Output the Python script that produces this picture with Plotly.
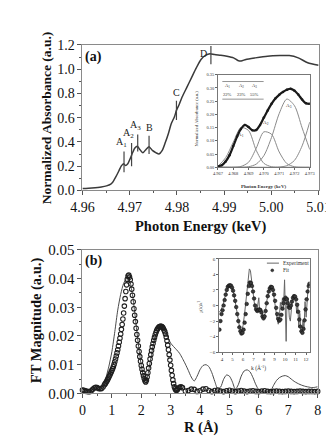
import plotly.graph_objects as go

# ---------------- Panel (a): XANES spectrum ----------------
xanes_energy = [4.9600, 4.9620, 4.9640, 4.9651, 4.9660, 4.9664, 4.9670, 4.9677, 4.9682, 4.9687,
                4.9691, 4.9696, 4.9702, 4.9706, 4.9711, 4.9716, 4.9721, 4.9728, 4.9735, 4.9741,
                4.9748, 4.9756, 4.9762, 4.9769, 4.9775, 4.9782, 4.9788, 4.9795, 4.9799, 4.9805,
                4.9811, 4.9821, 4.9831, 4.9841, 4.9851, 4.9861, 4.9870, 4.9880, 4.9893, 4.9906,
                4.9920, 4.9929, 4.9936, 4.9946, 4.9966, 4.9992, 5.0018, 5.0038, 5.0057, 5.0077,
                5.0100]
xanes_absorbance = [0.015, 0.020, 0.028, 0.037, 0.052, 0.067, 0.107, 0.160, 0.200, 0.220,
                    0.205, 0.220, 0.270, 0.310, 0.350, 0.365, 0.340, 0.310, 0.340, 0.360,
                    0.330, 0.310, 0.300, 0.330, 0.390, 0.470, 0.550, 0.610, 0.660, 0.710,
                    0.770, 0.850, 0.930, 1.010, 1.080, 1.115, 1.128, 1.120, 1.115, 1.107,
                    1.093, 1.072, 1.067, 1.080, 1.093, 1.107, 1.112, 1.112, 1.093, 1.053,
                    1.032]

feature_names = ["A<sub>1</sub>", "A<sub>2</sub>", "A<sub>3</sub>", "B", "C", "D"]
feature_energy = [4.9688, 4.9704, 4.9717, 4.9741, 4.9799, 4.9872]
feature_low = [0.15, 0.20, 0.32, 0.30, 0.58, 1.04]
feature_high = [0.32, 0.39, 0.46, 0.45, 0.74, 1.19]

# ---------------- Panel (a) inset: pre-edge fit ----------------
pre_energy = [4.96700, 4.96725, 4.96750, 4.96775, 4.96800, 4.96825, 4.96850, 4.96875, 4.96900,
              4.96925, 4.96950, 4.96975, 4.97000, 4.97025, 4.97050, 4.97075, 4.97100, 4.97125,
              4.97150, 4.97175, 4.97200, 4.97225, 4.97250, 4.97275, 4.97300]
pre_absorbance = [0.003, 0.008, 0.022, 0.045, 0.080, 0.116, 0.145, 0.160, 0.152,
                  0.140, 0.141, 0.160, 0.188, 0.215, 0.240, 0.260, 0.274, 0.285,
                  0.293, 0.297, 0.290, 0.275, 0.256, 0.242, 0.240]

comp_energy = [4.9670, 4.9675, 4.9680, 4.9685, 4.9690, 4.9695, 4.9700,
               4.9705, 4.9710, 4.9715, 4.9720, 4.9725, 4.9730]
comp_A1 = [0.004, 0.036, 0.095, 0.150, 0.139, 0.064, 0.015, 0.002, 0.000, 0.000, 0.000, 0.000, 0.000]
comp_A2 = [0.000, 0.000, 0.000, 0.003, 0.019, 0.072, 0.134, 0.125, 0.058, 0.014, 0.002, 0.000, 0.000]
comp_A3 = [0.000, 0.000, 0.000, 0.000, 0.002, 0.012, 0.044, 0.113, 0.203, 0.258, 0.233, 0.149, 0.067]
comp_edge = [0.000, 0.000, 0.000, 0.000, 0.000, 0.000, 0.000, 0.000, 0.001, 0.006, 0.026, 0.081, 0.171]
component_names = ["A<sub>1</sub>", "A<sub>2</sub>", "A<sub>3</sub>"]
component_shares = ["22%", "23%", "55%"]

# ---------------- Panel (b): Fourier transform ----------------
ft_r_exp = [0.00, 0.10, 0.20, 0.30, 0.40, 0.50, 0.60, 0.70, 0.80, 0.90,
            1.00, 1.10, 1.20, 1.30, 1.40, 1.50, 1.55, 1.60, 1.70, 1.80,
            1.90, 2.00, 2.10, 2.15, 2.20, 2.30, 2.40, 2.50, 2.60, 2.70,
            2.80, 2.90, 3.00, 3.10, 3.20, 3.30, 3.40, 3.50, 3.60, 3.70,
            3.80, 3.90, 4.00, 4.10, 4.20, 4.30, 4.40, 4.50, 4.60, 4.70,
            4.80, 4.90, 5.00, 5.10, 5.20, 5.30, 5.40, 5.50, 5.60, 5.70,
            5.80, 5.90, 6.00, 6.10, 6.20, 6.30, 6.40, 6.50, 6.60, 6.70,
            6.80, 6.90, 7.00, 7.10, 7.20, 7.30, 7.40, 7.50, 7.60, 7.70,
            7.80, 7.90, 8.00]
ft_mag_exp = [0.0015, 0.0012, 0.0007, 0.0010, 0.0018, 0.0023, 0.0019, 0.0024, 0.0055, 0.0095,
              0.0145, 0.0215, 0.0290, 0.0345, 0.0383, 0.0400, 0.0401, 0.0395, 0.0345, 0.0262,
              0.0172, 0.0097, 0.0048, 0.0036, 0.0050, 0.0108, 0.0163, 0.0203, 0.0225, 0.0233,
              0.0222, 0.0196, 0.0175, 0.0163, 0.0152, 0.0140, 0.0122, 0.0102, 0.0080, 0.0057,
              0.0043, 0.0060, 0.0083, 0.0097, 0.0100, 0.0093, 0.0072, 0.0042, 0.0016, 0.0022,
              0.0049, 0.0064, 0.0060, 0.0040, 0.0014, 0.0030, 0.0060, 0.0078, 0.0082, 0.0075,
              0.0055, 0.0030, 0.0012, 0.0006, 0.0004, 0.0005, 0.0009, 0.0028, 0.0045, 0.0055,
              0.0060, 0.0062, 0.0058, 0.0050, 0.0042, 0.0036, 0.0031, 0.0027, 0.0024, 0.0022,
              0.0020, 0.0021, 0.0023]

ft_r_fit = [0.00, 0.05, 0.10, 0.15, 0.20, 0.25, 0.30, 0.35, 0.40, 0.45,
            0.50, 0.55, 0.60, 0.65, 0.70,
            0.750, 0.775, 0.800, 0.825, 0.850, 0.875, 0.900, 0.925, 0.950, 0.975,
            1.000, 1.025, 1.050, 1.075, 1.100, 1.125, 1.150, 1.175, 1.200, 1.225,
            1.250, 1.275, 1.300, 1.325, 1.350, 1.375, 1.400, 1.425, 1.450, 1.475,
            1.500, 1.525, 1.550, 1.575, 1.600, 1.625, 1.650, 1.675, 1.700, 1.725,
            1.750, 1.775, 1.800, 1.825, 1.850, 1.875, 1.900, 1.925, 1.950, 1.975,
            2.000, 2.025, 2.050, 2.075, 2.100, 2.125, 2.150, 2.175, 2.200, 2.225,
            2.250, 2.275, 2.300, 2.325, 2.350, 2.375, 2.400, 2.425, 2.450, 2.475,
            2.500, 2.525, 2.550, 2.575, 2.600, 2.625, 2.650, 2.675, 2.700, 2.725,
            2.750, 2.775, 2.800, 2.825, 2.850, 2.875, 2.900, 2.925, 2.950, 2.975,
            3.000, 3.025, 3.050, 3.075, 3.100, 3.125, 3.150, 3.175, 3.200, 3.225,
            3.250, 3.30, 3.35, 3.40, 3.50, 3.60, 3.70, 3.80, 3.90, 4.00,
            4.10, 4.20, 4.30, 4.40, 4.50, 4.60, 4.70, 4.80, 4.90, 5.00,
            5.10, 5.20, 5.30, 5.40, 5.50, 5.60, 5.70, 5.80, 5.90, 6.00,
            6.10, 6.20, 6.30, 6.40, 6.50, 6.60, 6.70, 6.80, 6.90, 7.00,
            7.10, 7.20, 7.30, 7.40, 7.50, 7.60, 7.70, 7.80, 7.90, 8.00]
ft_mag_fit = [0.0012, 0.0011, 0.0009, 0.0007, 0.0006, 0.0006, 0.0009, 0.0014, 0.0019, 0.0021,
              0.0020, 0.0017, 0.0016, 0.0017, 0.0022,
              0.0030, 0.0034, 0.0038, 0.0042, 0.0047, 0.0052, 0.0057, 0.0062, 0.0068, 0.0074,
              0.0080, 0.0086, 0.0093, 0.0101, 0.0110, 0.0120, 0.0130, 0.0141, 0.0152, 0.0165,
              0.0178, 0.0192, 0.0207, 0.0223, 0.0240, 0.0259, 0.0280, 0.0304, 0.0330, 0.0355,
              0.0378, 0.0397, 0.0409, 0.0412, 0.0405, 0.0396, 0.0381, 0.0363, 0.0342, 0.0319,
              0.0295, 0.0272, 0.0250, 0.0227, 0.0205, 0.0185, 0.0165, 0.0146, 0.0128, 0.0112,
              0.0097, 0.0084, 0.0072, 0.0061, 0.0052, 0.0044, 0.0040, 0.0046, 0.0057, 0.0072,
              0.0088, 0.0104, 0.0120, 0.0135, 0.0149, 0.0162, 0.0174, 0.0185, 0.0195, 0.0204,
              0.0212, 0.0219, 0.0224, 0.0228, 0.0231, 0.0233, 0.0234, 0.0234, 0.0233, 0.0230,
              0.0226, 0.0221, 0.0215, 0.0207, 0.0196, 0.0183, 0.0168, 0.0152, 0.0135, 0.0116,
              0.0098, 0.0080, 0.0063, 0.0047, 0.0034, 0.0023, 0.0016, 0.0012, 0.0011, 0.0013,
              0.0017, 0.0021, 0.0023, 0.0020, 0.0008, 0.0010, 0.0015, 0.0014, 0.0007, 0.0009,
              0.0015, 0.0016, 0.0010, 0.0006, 0.0010, 0.0012, 0.0008, 0.0006, 0.0009, 0.0011,
              0.0008, 0.0006, 0.0008, 0.0010, 0.0008, 0.0006, 0.0008, 0.0009, 0.0007, 0.0006,
              0.0008, 0.0009, 0.0007, 0.0006, 0.0007, 0.0008, 0.0007, 0.0006, 0.0007, 0.0008,
              0.0007, 0.0006, 0.0007, 0.0008, 0.0007, 0.0006, 0.0007, 0.0007, 0.0006, 0.0007]

# ---------------- Panel (b) inset: k^3 chi(k) ----------------
k_exp = [3.70, 3.90, 4.10, 4.30, 4.50, 4.70, 4.90, 5.10, 5.30, 5.50,
         5.70, 5.85, 6.00, 6.15, 6.30, 6.45, 6.60, 6.70, 6.85, 7.00,
         7.15, 7.30, 7.40, 7.50, 7.55, 7.65, 7.75, 7.85, 7.95, 8.10,
         8.25, 8.45, 8.65, 8.80, 8.95, 9.10, 9.25, 9.35, 9.45, 9.55,
         9.65, 9.75, 9.85, 9.95, 10.02, 10.10, 10.18, 10.30, 10.40, 10.50,
         10.60, 10.70, 10.80, 10.90, 11.00, 11.10, 11.20, 11.30, 11.40, 11.50,
         11.60, 11.70, 11.80, 11.90, 12.00, 12.10, 12.20, 12.30]
chi_exp = [-0.9, -0.6, 0.1, 1.3, 2.3, 2.6, 2.5, 1.7, 0.0, -1.9,
           -3.0, -3.2, -2.6, -1.0, 1.2, 3.3, 4.7, 4.5, 3.0, 1.0,
           -0.5, -0.8, 0.2, 1.0, -0.2, -0.6, -0.4, -1.3, -1.5, -1.0,
           0.5, 1.9, 2.4, 2.2, 1.0, -0.6, -1.8, -2.4, -1.6, 0.4,
           -0.5, 1.0, -0.2, 3.3, -0.5, -4.6, 0.6, 1.0, -1.5, -2.0,
           -0.5, 1.1, 0.7, 1.3, 1.1, -1.0, 0.3, -2.8, -1.0, -3.2,
           -3.7, -2.0, -3.0, 0.5, -1.5, 1.5, 2.5, 2.8]

k_fit = [3.75, 3.85, 3.95, 4.05, 4.15, 4.25, 4.35, 4.45, 4.55, 4.65,
         4.75, 4.85, 4.95, 5.05, 5.15, 5.25, 5.35, 5.45, 5.55, 5.65,
         5.75, 5.85, 5.95, 6.05, 6.15, 6.25, 6.35, 6.45, 6.55, 6.65,
         6.75, 6.85, 6.95, 7.05, 7.15, 7.25, 7.35, 7.45, 7.55, 7.65,
         7.75, 7.85, 7.95, 8.05, 8.15, 8.25, 8.35, 8.45, 8.55, 8.65,
         8.75, 8.85, 8.95, 9.05, 9.15, 9.25, 9.35, 9.45, 9.55, 9.65,
         9.75, 9.85, 9.95, 10.05, 10.15, 10.25, 10.35, 10.45, 10.55, 10.65,
         10.75, 10.85, 10.95, 11.05, 11.15, 11.25, 11.35, 11.45, 11.55, 11.65,
         11.75, 11.85, 11.95, 12.05, 12.15, 12.25, 12.32]
chi_fit = [-3.1, -2.0, -1.1, -0.6, 0.0, 0.7, 1.4, 2.0, 2.4, 2.55,
           2.6, 2.55, 2.3, 1.9, 1.3, 0.6, -0.2, -1.1, -2.0, -2.8,
           -3.3, -3.6, -3.5, -3.1, -2.2, -1.1, 0.2, 1.5, 2.5, 2.95,
           2.9, 2.5, 1.8, 0.9, 0.0, -0.5, -0.7, -0.6, -0.5, -0.6,
           -0.9, -1.4, -1.65, -1.4, -0.7, 0.3, 1.2, 1.8, 2.2, 2.4,
           2.35, 2.0, 1.4, 0.6, -0.3, -1.1, -1.7, -1.95, -1.8, -1.2,
           -0.4, 0.3, 0.8, 1.0, 0.8, 0.3, -0.2, -0.3, 0.0, 0.5,
           1.0, 1.2, 1.15, 0.8, 0.1, -0.8, -1.8, -2.7, -3.3, -3.5,
           -3.0, -1.9, -0.5, 0.8, 1.8, 2.5, 2.8]

# ---------------- styling / layout helpers ----------------
W, H = 334, 438
FONT = "Liberation Serif"
INK = "#111111"
FRAME = "#8a8a8a"


def pxx(x):
    return x / W


def pxy(y):
    return 1 - y / H


def main_axis(domain, rng, dtick, minor, fmt, anchor, size):
    return dict(domain=domain, range=rng, anchor=anchor, dtick=dtick, tickformat=fmt,
                ticks="outside", ticklen=4, tickwidth=1, tickcolor="#555",
                minor=dict(dtick=minor, ticks="outside", ticklen=2, tickcolor="#555"),
                showline=True, linecolor=FRAME, linewidth=1, mirror=True,
                showgrid=False, zeroline=False,
                tickfont=dict(family=FONT, size=size, color=INK))


def inset_axis(domain, rng, dtick, fmt, anchor, size):
    return dict(domain=domain, range=rng, anchor=anchor, dtick=dtick, tickformat=fmt,
                ticks="outside", ticklen=2, tickwidth=0.8, tickcolor="#666",
                showline=True, linecolor="#777", linewidth=0.8, mirror=True,
                showgrid=False, zeroline=False,
                tickfont=dict(family=FONT, size=size, color="#333"))


fig = go.Figure()

# panel (a) spectrum
fig.add_trace(go.Scatter(x=xanes_energy, y=xanes_absorbance, mode="lines",
                         line=dict(color="#3a3a3a", width=1.5, shape="spline", smoothing=0.6),
                         xaxis="x", yaxis="y", showlegend=False))
mk_x, mk_y = [], []
for e, lo, hi in zip(feature_energy, feature_low, feature_high):
    mk_x += [e, e, None]
    mk_y += [lo, hi, None]
fig.add_trace(go.Scatter(x=mk_x, y=mk_y, mode="lines", line=dict(color="#444", width=1.2),
                         xaxis="x", yaxis="y", showlegend=False))

# panel (a) inset
for comp in (comp_A1, comp_A2, comp_A3, comp_edge):
    fig.add_trace(go.Scatter(x=comp_energy, y=comp, mode="lines",
                             line=dict(color="#8a8a8a", width=1, shape="spline", smoothing=0.8),
                             xaxis="x3", yaxis="y3", showlegend=False))
fig.add_trace(go.Scatter(x=pre_energy, y=pre_absorbance, mode="lines+markers",
                         line=dict(color="#1a1a1a", width=2.2, shape="spline"),
                         marker=dict(size=2.5, color="#1a1a1a"),
                         xaxis="x3", yaxis="y3", showlegend=False))

# panel (b) FT
fig.add_trace(go.Scatter(x=ft_r_exp, y=ft_mag_exp, mode="lines",
                         line=dict(color="#4a4a4a", width=1, shape="spline", smoothing=0.7),
                         xaxis="x2", yaxis="y2", showlegend=False))
fig.add_trace(go.Scatter(x=ft_r_fit, y=ft_mag_fit, mode="markers",
                         marker=dict(symbol="circle-open", size=4.5, color="#1e1e1e",
                                     line=dict(width=1.1, color="#1e1e1e")),
                         cliponaxis=False, xaxis="x2", yaxis="y2", showlegend=False))

# panel (b) inset
fig.add_trace(go.Scatter(x=k_exp, y=chi_exp, mode="lines",
                         line=dict(color="#666", width=1),
                         xaxis="x4", yaxis="y4", showlegend=False))
fig.add_trace(go.Scatter(x=k_fit, y=chi_fit, mode="markers",
                         marker=dict(symbol="circle", size=3.6, color="#3a3a3a",
                                     line=dict(width=0.6, color="#111")),
                         xaxis="x4", yaxis="y4", showlegend=False))

ann = []
shapes = []

# feature labels on the spectrum
label_style = [(-3, 1, "center", "bottom"), (-3, 1, "center", "bottom"), (-2, 1, "center", "bottom"),
               (0, 1, "center", "bottom"), (0, 1, "center", "bottom"), (-2, -7, "right", "middle")]
for name, e, hi, (dx, dy, xa, ya) in zip(feature_names, feature_energy, feature_high, label_style):
    ann.append(dict(x=e, y=hi, xref="x", yref="y", text=name, showarrow=False,
                    xanchor=xa, yanchor=ya, xshift=dx, yshift=dy,
                    font=dict(family=FONT, size=10, color="#222")))

# axis titles and panel labels
def paper_text(x, y, text, size, angle=0, bold=True, color=INK, xa="center"):
    ann.append(dict(x=pxx(x), y=pxy(y), xref="paper", yref="paper",
                    text=("<b>%s</b>" % text) if bold else text, showarrow=False,
                    textangle=angle, xanchor=xa, yanchor="middle",
                    font=dict(family=FONT, size=size, color=color)))

paper_text(28, 105, "Normalized Absorbance (a.u.)", 13.5, -90)
paper_text(195, 218, "Photon Energy (keV)", 14.5)
paper_text(18, 316, "FT Magnitude (a.u.)", 14.5, -90)
paper_text(195, 427.5, "R (Å)", 14.5)
paper_text(79, 43, "(a)", 14)
paper_text(79, 254, "(b)", 14)

# top inset titles, component labels and share table
paper_text(190, 106, "Normalized Absorbance (a.u.)", 4.6, -90, bold=False, color="#333")
paper_text(263, 177, "Photon Energy (keV)", 5, bold=True, color="#333")
for name, (x, y) in zip(component_names, [(238.5, 123), (265.5, 111.5), (290, 93)]):
    paper_text(x, y, name, 5, bold=False, color="#333")
for i, (name, share) in enumerate(zip(component_names, component_shares)):
    paper_text(224 + 14.5 * i, 72.5, name, 4.6, bold=False, color="#333")
    paper_text(224 + 14.5 * i, 81.5, share, 4.6, bold=False, color="#333")
for yy in (68, 86.3):
    shapes.append(dict(type="line", xref="paper", yref="paper", x0=pxx(218), x1=pxx(262.5),
                       y0=pxy(yy), y1=pxy(yy), line=dict(color="#666", width=0.7)))

# bottom inset titles and legend
paper_text(194, 302, "χ(k)k<sup>3</sup>", 5, -90, bold=False, color="#333")
paper_text(257, 365.5, "k (Å<sup>-1</sup>)", 5.5, bold=False, color="#333")
shapes.append(dict(type="line", xref="paper", yref="paper", x0=pxx(266), x1=pxx(279),
                   y0=pxy(256.5), y1=pxy(256.5), line=dict(color="#666", width=1)))
shapes.append(dict(type="circle", xref="paper", yref="paper", x0=pxx(270.3), x1=pxx(273.3),
                   y0=pxy(265.5), y1=pxy(262.5), fillcolor="#3a3a3a", line=dict(color="#111", width=0.5)))
paper_text(281, 256.5, "Experiment", 5.5, bold=False, color="#333", xa="left")
paper_text(281, 264, "Fit", 5.5, bold=False, color="#333", xa="left")

layout = dict(
    width=W, height=H, margin=dict(l=0, r=0, t=0, b=0),
    paper_bgcolor="white", plot_bgcolor="white", showlegend=False,
    font=dict(family=FONT, color=INK),
    xaxis=main_axis([pxx(67.3), pxx(321.7)], [4.96, 5.01], 0.01, 0.005, ".2f", "y", 14),
    yaxis=main_axis([pxy(181), pxy(30)], [0, 1.2], 0.2, 0.1, ".1f", "x", 14),
    xaxis2=main_axis([pxx(67.3), pxx(320.7)], [0, 8], 1, 0.5, "d", "y2", 14),
    yaxis2=main_axis([pxy(391.7), pxy(242.7)], [0, 0.05], 0.01, 0.005, ".2f", "x2", 15),
    xaxis3=inset_axis([pxx(213.3), pxx(312.2)], [4.967, 4.973], 0.001, ".3f", "y3", 4.4),
    yaxis3=inset_axis([pxy(157), pxy(61)], [0, 0.35], 0.05, ".2f", "x3", 4.4),
    xaxis4=inset_axis([pxx(214.5), pxx(312)], [3.72, 12.33], 1, "d", "y4", 5),
    yaxis4=inset_axis([pxy(349), pxy(252)], [-6, 6], 2, "d", "x4", 5),
    annotations=ann, shapes=shapes,
)
fig.update_layout(**layout)

fig.write_html("out.html")
